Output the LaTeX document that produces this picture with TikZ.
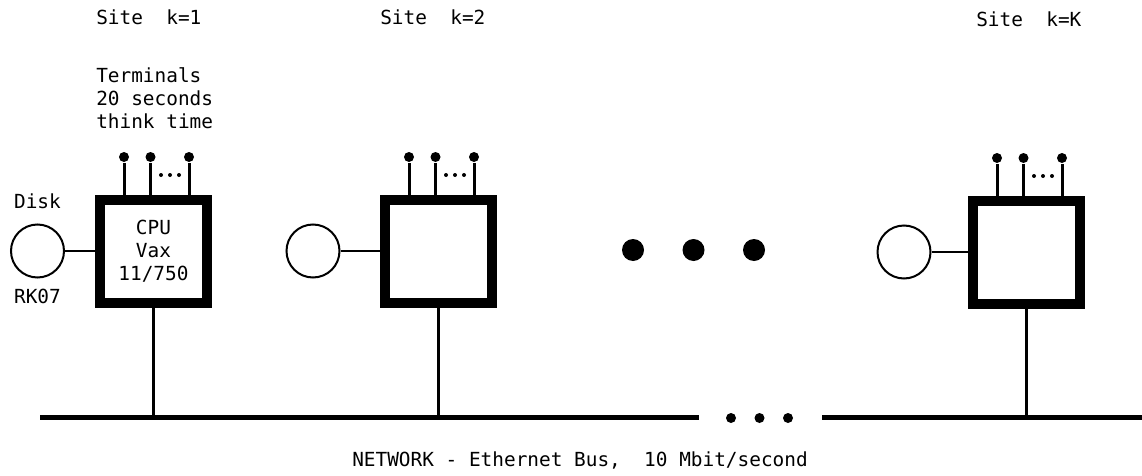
\documentclass[tikz,border=0pt]{standalone}
\usepackage{fontspec}
\setmonofont{DejaVu Sans Mono}
\usetikzlibrary{positioning}

\begin{document}
\begin{tikzpicture}[x=1pt, y=1pt, line width=2.5pt, font=\ttfamily\fontsize{19.4}{23}\selectfont]
    % Define styles
    \tikzstyle{cpu} = [rectangle, draw, line width=10pt, minimum width=107pt, minimum height=103pt, inner sep=0pt, align=center]
    \tikzstyle{disk} = [circle, draw, line width=2pt, minimum size=53pt, inner sep=0pt]
    \tikzstyle{termdot} = [circle, fill, minimum size=10pt, inner sep=0pt]
    \tikzstyle{busdot} = [circle, fill, minimum size=10pt, inner sep=0pt]
    \tikzstyle{bigdot} = [circle, fill, minimum size=22pt, inner sep=0pt]
    \tikzstyle{caption} = [anchor=west, align=left, inner sep=0pt]
    \tikzstyle{bus} = [line width=5pt]
    \tikzstyle{stem} = [line width=3pt]

    \useasboundingbox (0,0) rectangle (1142,475);

    % Nodes
    \node[caption] (site1) at (95,458) {Site~~k=1};
    \node[caption] (site2) at (379,458) {Site~~k=2};
    \node[caption] (siteK) at (975,456) {Site~~k=K};
    \node[caption] (termtext) at (95,376.5) {Terminals\\20 seconds\\think time};

    \node[cpu] (cpu1) at (153.5,223.5) {CPU\\Vax\\11/750};
    \node[cpu] (cpu2) at (438.5,223.5) {};
    \node[cpu] (cpuK) at (1026.5,222.5) {};

    \node[disk, label={[inner sep=0pt, label distance=13.5pt]above:Disk}, label={[inner sep=0pt, label distance=9.5pt]below:RK07}] (disk1) at (37.5,224) {};
    \node[disk] (disk2) at (313,224) {};
    \node[disk] (diskK) at (904,223) {};

    \node[bigdot] (gap1) at (633,225) {};
    \node[bigdot, right=36pt of gap1] (gap2) {};
    \node[bigdot, right=36pt of gap2] (gap3) {};

    \coordinate (busA) at (40,58);
    \coordinate (busB) at (699,58);
    \coordinate (busC) at (822,58);
    \coordinate (busD) at (1142,58);
    \node[busdot] (bd1) at (731,57) {};
    \node[busdot, right=16pt of bd1] (bd2) {};
    \node[busdot, right=16pt of bd2] (bd3) {};

    \node (net) at (580,15) {NETWORK - Ethernet Bus,~~10 Mbit/second};

    % Terminals and taps
    \foreach \s in {cpu1,cpu2,cpuK} {
        \node[termdot] (\s-ta) at ([xshift=-29.5pt,yshift=38pt]\s.north) {};
        \node[termdot] (\s-tb) at ([xshift=-3pt,yshift=38pt]\s.north) {};
        \node[termdot] (\s-tc) at ([xshift=35.5pt,yshift=38pt]\s.north) {};
        \draw[stem] (\s-ta) -- (\s-ta |- \s.north);
        \draw[stem] (\s-tb) -- (\s-tb |- \s.north);
        \draw[stem] (\s-tc) -- (\s-tc |- \s.north);
        \fill ([xshift=7.5pt,yshift=20pt]\s.north) circle (2pt);
        \fill ([xshift=16.5pt,yshift=20pt]\s.north) circle (2pt);
        \fill ([xshift=25.5pt,yshift=20pt]\s.north) circle (2pt);
        \draw[stem] (\s.south) -- (\s.south |- busA);
    }

    % Links
    \draw (disk1.east) -- (disk1.east -| cpu1.west);
    \draw (disk2.east) -- (disk2.east -| cpu2.west);
    \draw (diskK.east) -- (diskK.east -| cpuK.west);
    \draw[bus] (busA) -- (busB);
    \draw[bus] (busC) -- (busD);
\end{tikzpicture}
\end{document}
